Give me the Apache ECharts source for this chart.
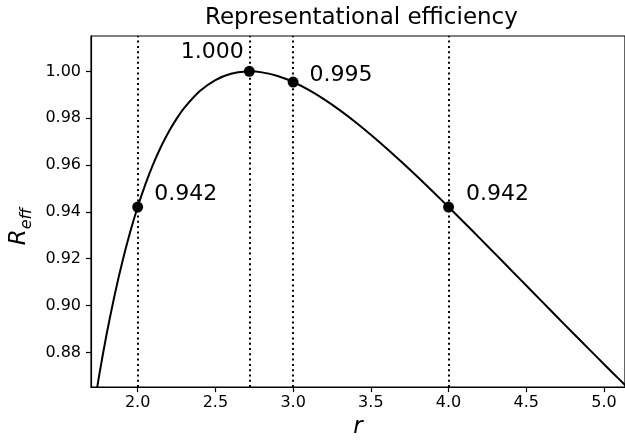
<!DOCTYPE html>
<html>
<head>
<meta charset="utf-8">
<script src="https://cdn.jsdelivr.net/npm/echarts@6/dist/echarts.min.js"></script>
<style>html,body{margin:0;padding:0;background:#fff}#c{width:625px;height:444px}</style>
</head>
<body>
<div id="c"></div>
<script>
// Curve values (r vs R_eff)
const curveR   = [1.70, 1.75, 1.80, 1.85, 1.90, 1.95, 2.00, 2.05, 2.10, 2.15, 2.20, 2.25, 2.30, 2.40, 2.50, 2.60, 2.70, 2.71828, 2.80, 2.90, 3.00, 3.10, 3.20, 3.30, 3.40, 3.50, 3.60, 3.70, 3.80, 3.90, 4.00, 4.10, 4.20, 4.30, 4.40, 4.50, 4.60, 4.70, 4.80, 4.90, 5.00, 5.10, 5.20];
const curveEff = [0.84847, 0.86925, 0.88765, 0.90391, 0.91829, 0.93095, 0.94208, 0.95185, 0.96038, 0.96780, 0.97420, 0.97970, 0.98438, 0.99157, 0.99630, 0.99898, 0.99998, 1.00000, 0.99957, 0.99800, 0.99545, 0.99209, 0.98805, 0.98346, 0.97840, 0.97296, 0.96721, 0.96119, 0.95498, 0.94860, 0.94208, 0.93548, 0.92880, 0.92208, 0.91532, 0.90856, 0.90179, 0.89504, 0.88832, 0.88163, 0.87498, 0.86838, 0.86183];
// Highlighted points
const markR      = [2.0, 2.71828, 3.0, 4.0];
const markEff    = [0.94208, 1.00000, 0.99545, 0.94208];
const markLabels = ['0.942', '1.000', '0.995', '0.942'];
// Tick values
const xTicks = [2.0, 2.5, 3.0, 3.5, 4.0, 4.5, 5.0];
const yTicks = [0.88, 0.90, 0.92, 0.94, 0.96, 0.98, 1.00];

const FONT = 'DejaVu Sans';
const chart = echarts.init(document.getElementById('c'), null, {renderer: 'canvas'});

const labelPos = [
  {position: 'right', distance: 11, offset: [0, -13]},
  {position: 'left', distance: 0, offset: [0, -19]},
  {position: 'right', distance: 11, offset: [0, -7]},
  {position: 'right', distance: 12, offset: [0, -13]}
];

chart.setOption({
  animation: false,
  backgroundColor: '#fff',
  title: {
    text: 'Representational efficiency',
    left: 205, top: 7, padding: 0,
    textStyle: {fontFamily: FONT, fontSize: 23, fontWeight: 'normal', color: '#000'}
  },
  grid: {left: 90, right: 0, top: 36, bottom: 53, show: true, borderColor: '#000', borderWidth: 1.2, backgroundColor: 'transparent'},
  xAxis: {
    type: 'value', min: 1.70, max: 5.135,
    name: 'r', nameLocation: 'middle', nameGap: 22,
    nameTextStyle: {fontFamily: FONT, fontSize: 23, fontStyle: 'italic', color: '#000'},
    axisLine: {show: true, onZero: false, lineStyle: {color: '#000', width: 1.2}},
    axisTick: {show: true, length: 5, lineStyle: {color: '#000', width: 1.2}, customValues: xTicks},
    axisLabel: {fontFamily: FONT, fontSize: 16, color: '#000', margin: 8, customValues: xTicks, formatter: v => v.toFixed(1)},
    splitLine: {show: false}
  },
  yAxis: {
    type: 'value', min: 0.8652, max: 1.0151,
    name: '{r|R}{s|eff}', nameLocation: 'middle', nameGap: 53, nameRotate: 90,
    nameTextStyle: {
      color: '#000',
      rich: {
        r: {fontFamily: FONT, fontSize: 23, fontStyle: 'italic', color: '#000', lineHeight: 30, verticalAlign: 'middle'},
        s: {fontFamily: FONT, fontSize: 16, fontStyle: 'italic', color: '#000', lineHeight: 16, verticalAlign: 'bottom', padding: [0, 30, 0, 0]}
      }
    },
    axisLine: {show: true, onZero: false, lineStyle: {color: '#000', width: 1.2}},
    axisTick: {show: true, length: 5, lineStyle: {color: '#000', width: 1.2}, customValues: yTicks},
    axisLabel: {fontFamily: FONT, fontSize: 16, color: '#000', margin: 10, customValues: yTicks, formatter: v => v.toFixed(2)},
    splitLine: {show: false}
  },
  series: [
    {
      type: 'line',
      data: curveR.map((r, i) => [r, curveEff[i]]),
      showSymbol: false, smooth: 0.3, clip: true,
      lineStyle: {color: '#000', width: 2},
      z: 3,
      markLine: {
        silent: true, symbol: 'none',
        label: {show: false},
        lineStyle: {color: '#000', width: 2, type: [2, 3.3], opacity: 1},
        data: markR.map(r => ({xAxis: r}))
      }
    },
    {
      type: 'scatter',
      symbol: 'circle', symbolSize: 11,
      itemStyle: {color: '#000', opacity: 1},
      z: 4,
      data: markR.map((r, i) => ({
        value: [r, markEff[i]],
        label: Object.assign({show: true, formatter: markLabels[i], fontFamily: FONT, fontSize: 22, color: '#000', opacity: 1}, labelPos[i])
      }))
    }
  ]
});
</script>
</body>
</html>
